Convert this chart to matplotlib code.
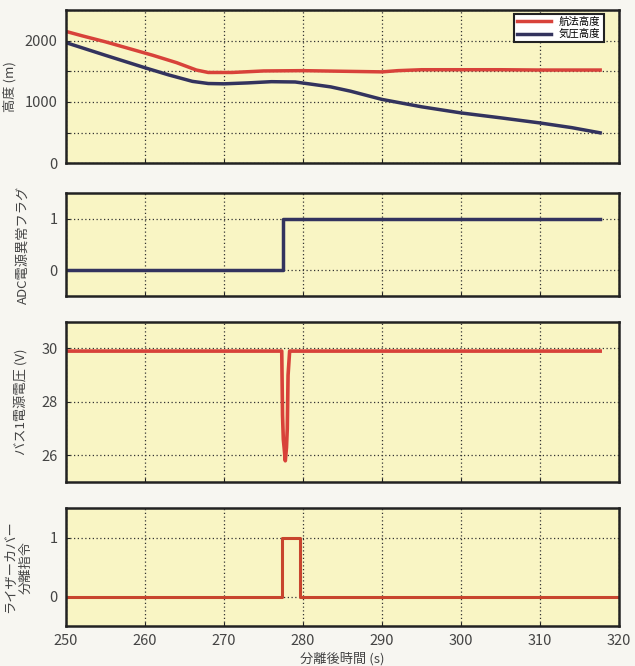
import matplotlib
matplotlib.use("Agg")
import matplotlib.pyplot as plt
import numpy as np

plt.rcParams['font.family'] = ['Noto Sans CJK JP', 'DejaVu Sans']

# --- altitude (m) ---
t_nav = [250, 252, 255, 258, 261, 264, 266.5, 268, 271, 275, 280, 285, 290, 292, 295, 300, 305, 310, 315, 317.6]
alt_nav = [2150, 2080, 1980, 1870, 1760, 1640, 1520, 1480, 1480, 1505, 1510, 1500, 1490, 1510, 1525, 1525, 1525, 1520, 1520, 1520]
t_baro = [250, 255, 260, 263, 266, 268, 270, 273, 276, 279, 281, 283.5, 286, 290, 295, 300, 305, 310, 314, 317.6]
alt_baro = [1967, 1760, 1557, 1440, 1335, 1300, 1295, 1310, 1330, 1325, 1290, 1245, 1175, 1040, 920, 820, 740, 656, 580, 495]

# --- ADC power anomaly flag ---
t_flag = [250, 277.5, 277.5, 317.6]
flag = [0, 0, 1, 1]

# --- bus 1 supply voltage (V) ---
t_volt = [250, 277.3, 277.4, 277.5, 277.6, 277.75, 277.9, 278.0, 278.1, 278.3, 317.6]
volt = [29.9, 29.9, 27.5, 26.6, 26.3, 25.8, 26.3, 27.0, 29.0, 29.9, 29.9]

# --- riser cover separation command ---
t_cmd = [250, 277.3, 277.3, 279.6, 279.6, 320]
cmd = [0, 0, 1, 1, 0, 0]

x_ticks = [250, 260, 270, 280, 290, 300, 310, 320]

RED = '#d8423a'
NAVY = '#33335e'
FACE = '#f9f5c4'
TXT = '#444444'

fig = plt.figure(figsize=(6.35, 6.66), dpi=100, facecolor='#f7f6f1')

left, right = 0.104, 0.975
boxes = [(0.755, 0.985), (0.556, 0.710), (0.276, 0.517), (0.060, 0.237)]
axes = [fig.add_axes([left, b, right - left, t - b]) for b, t in boxes]

for ax in axes:
    ax.set_facecolor(FACE)
    ax.set_xlim(250, 320)
    ax.set_xticks(x_ticks)
    ax.grid(True, linestyle=(0, (1, 2)), color='#333333', linewidth=0.9)
    ax.set_axisbelow(True)
    for s in ax.spines.values():
        s.set_linewidth(1.8)
        s.set_color('#222222')
    ax.tick_params(direction='in', length=3, width=0.8, colors='#222222',
                   labelcolor=TXT, labelsize=10.5, pad=6)
    if ax is not axes[-1]:
        ax.tick_params(labelbottom=False)

# altitude
ax = axes[0]
ax.plot(t_nav, alt_nav, color=RED, lw=2.5, label='航法高度')
ax.plot(t_baro, alt_baro, color=NAVY, lw=2.5, label='気圧高度')
ax.set_ylim(0, 2500)
ax.set_yticks([0, 500, 1000, 1500, 2000, 2500])
ax.set_yticklabels(['0', '', '1000', '', '2000', ''])
ax.set_ylabel('高度 (m)', fontsize=9.5, color=TXT, labelpad=6)
leg = ax.legend(loc='upper right', bbox_to_anchor=(0.972, 0.975), fontsize=7.5,
                handlelength=3.2, borderpad=0.3, labelspacing=0.2, fancybox=False,
                framealpha=1, edgecolor='#222222', borderaxespad=0.0)
leg.get_frame().set_linewidth(1.5)

# ADC flag
ax = axes[1]
ax.plot(t_flag, flag, color=NAVY, lw=2.5)
ax.set_ylim(-0.5, 1.5)
ax.set_yticks([0, 1])
ax.set_ylabel('ADC電源異常フラグ', fontsize=9.5, color=TXT, labelpad=14)

# bus voltage
ax = axes[2]
ax.plot(t_volt, volt, color=RED, lw=2.6)
ax.set_ylim(25, 31)
ax.set_yticks([26, 28, 30])
ax.set_ylabel('バス1電源電圧 (V)', fontsize=9.5, color=TXT, labelpad=10)

# separation command
ax = axes[3]
ax.plot(t_cmd, cmd, color='#c8452e', lw=2.2)
ax.set_ylim(-0.5, 1.5)
ax.set_yticks([0, 1])
ax.set_ylabel('ライザーカバー\n分離指令', fontsize=9.5, color=TXT, labelpad=12,
              linespacing=1.3)
ax.set_xlabel('分離後時間 (s)', fontsize=9.5, color=TXT, labelpad=3)

fig.align_ylabels(axes)
fig.savefig('out.png', dpi=100, facecolor=fig.get_facecolor())
